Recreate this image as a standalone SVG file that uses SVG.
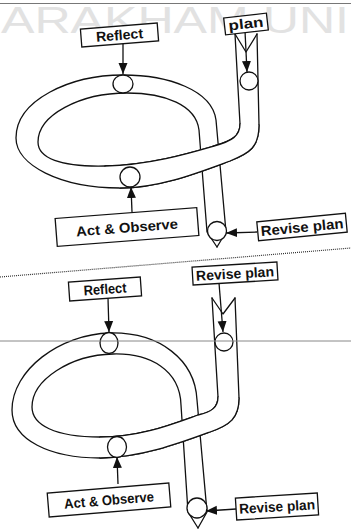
<svg xmlns="http://www.w3.org/2000/svg" width="351" height="530" viewBox="0 0 351 530">
  <style>
    .edge { fill: none; stroke: #111; stroke-width: 1.3; stroke-linejoin: round; stroke-linecap: round; }
    .mask { fill: #fff; stroke: none; }
    .stage { fill: #fff; stroke: #111; stroke-width: 1.3; }
    .box { fill: #fff; stroke: #111; stroke-width: 1.3; }
    .lbl { font-family: "Liberation Sans", Arial, sans-serif; font-weight: bold; font-size: 14px; fill: #111; text-anchor: middle; }
    .arrow { fill: none; stroke: #111; stroke-width: 1.3; marker-end: url(#head); }
    .wm { font-family: "Liberation Sans", Arial, sans-serif; font-size: 37px; fill: #e2e2e2; }
  </style>
  <defs>
    <marker id="head" markerUnits="userSpaceOnUse" markerWidth="12" markerHeight="10" refX="11" refY="5" orient="auto">
      <path d="M0,0.5 L11,5 L0,9.5 Z" fill="#111"/>
    </marker>
  </defs>

  <rect width="351" height="530" fill="#fff"/>

  <!-- page furniture -->
  <g id="page">
    <text class="wm" x="1" y="33" textLength="348" lengthAdjust="spacingAndGlyphs">ARAKHAM UNI</text>
    <line x1="0" y1="3.5" x2="351" y2="3.5" stroke="#777" stroke-width="1.2"/>
    <line x1="0" y1="277" x2="351" y2="248" stroke="#333" stroke-width="1.2" stroke-dasharray="1 1"/>
  </g>

  <!-- upper spiral: band tube -->
  <g id="spiral-1">
    <path class="edge" d="M 257,34 L 259,125 C 259,147 250,153 230,161 C 200,172 160,188 120,188 C 60,188 16,165 16,138 C 16,100 70,75 123,75 C 168,75 212,90 216,120 L 226,232 L 217,247"/>
    <path class="edge" d="M 235,34 L 240,124 C 240,136 232,141 214,146 C 190,153 150,165 105,166 C 60,167 38,158 38,142 C 38,115 80,93 127,93 C 165,93 196,105 199,130 L 207,232 L 217,247"/>
    <path class="edge" d="M 235,34 L 246,52 L 257,34"/>
    <!-- front segment of the band passes over the descending part -->
    <path class="mask" d="M 240,124 C 240,136 232,141 214,146 C 190,153 150,165 105,166 L 120,188 C 160,188 200,172 230,161 C 250,153 259,147 259,125 Z"/>
    <path class="edge" d="M 240,124 C 240,136 232,141 214,146 C 190,153 150,165 105,166"/>
    <path class="edge" d="M 259,125 C 259,147 250,153 230,161 C 200,172 160,188 120,188"/>
  </g>

  <!-- lower spiral: band tube -->
  <g id="spiral-2">
    <path class="edge" d="M 235,298 L 239,398 C 239,418 230,425 210,432 C 180,443 140,458 100,458 C 50,458 12,440 12,410 C 12,370 60,334 110,333 C 160,332 195,360 197,400 L 207,512 L 198,528"/>
    <path class="edge" d="M 212,298 L 218,397 C 218,407 212,412 198,415 C 170,425 140,437 100,437 C 55,437 32,425 32,407 C 32,380 70,355 113,354 C 150,353 180,370 181,405 L 188,512 L 198,528"/>
    <path class="edge" d="M 212,298 L 223,314 L 235,298"/>
    <path class="mask" d="M 218,397 C 218,407 212,412 198,415 C 170,425 140,437 100,437 L 100,458 C 140,458 180,443 210,432 C 230,425 239,418 239,398 Z"/>
    <path class="edge" d="M 218,397 C 218,407 212,412 198,415 C 170,425 140,437 100,437"/>
    <path class="edge" d="M 239,398 C 239,418 230,425 210,432 C 180,443 140,458 100,458"/>
  </g>

  <!-- stage markers on the tubes -->
  <g id="stages">
    <ellipse class="stage" cx="249" cy="81" rx="9" ry="9"/>
    <ellipse class="stage" cx="123" cy="84" rx="10" ry="9"/>
    <ellipse class="stage" cx="130" cy="177" rx="10" ry="10"/>
    <ellipse class="stage" cx="217" cy="231" rx="9.5" ry="9.5"/>
    <ellipse class="stage" cx="224" cy="342" rx="9" ry="9"/>
    <ellipse class="stage" cx="109" cy="343" rx="9" ry="10.5"/>
    <ellipse class="stage" cx="117" cy="447" rx="9.5" ry="10.5"/>
    <ellipse class="stage" cx="197" cy="508" rx="10" ry="10"/>
  </g>

  <!-- connectors from labels to stages -->
  <g id="connectors">
    <path class="arrow" d="M 123,44 L 123,74"/>
    <path class="arrow" d="M 245,31 L 247,72"/>
    <path class="arrow" d="M 132,212 L 131,187"/>
    <path class="arrow" d="M 257,232 L 226,233"/>
    <path class="arrow" d="M 108,298 L 109,332"/>
    <path class="arrow" d="M 219,283 L 223,332"/>
    <path class="arrow" d="M 118,484 L 117,457"/>
    <path class="arrow" d="M 236,509 L 206,511"/>
  </g>

  <!-- labels: upper spiral -->
  <g id="reflect-1" transform="translate(119.5,35) rotate(-4.5)">
    <rect class="box" x="-38.5" y="-9" width="77" height="18"/>
    <text class="lbl" x="0" y="5" textLength="47" lengthAdjust="spacingAndGlyphs">Reflect</text>
  </g>
  <g id="plan-1" transform="translate(246,24) rotate(-6.5)">
    <rect class="box" x="-21.5" y="-8.5" width="43" height="17"/>
    <text class="lbl" x="0" y="4.5" textLength="35" lengthAdjust="spacingAndGlyphs">plan</text>
  </g>
  <g id="act-1" transform="translate(127,227) rotate(-4.4)">
    <rect class="box" x="-71" y="-14" width="142" height="28"/>
    <text class="lbl" x="0" y="5.5" font-size="15" textLength="102" lengthAdjust="spacingAndGlyphs">Act &amp; Observe</text>
  </g>
  <g id="revise-1" transform="translate(302,227) rotate(-5.5)">
    <rect class="box" x="-44.5" y="-9.5" width="89" height="19"/>
    <text class="lbl" x="0" y="5" textLength="83" lengthAdjust="spacingAndGlyphs">Revise plan</text>
  </g>

  <!-- labels: lower spiral -->
  <g id="reflect-2" transform="translate(105,289) rotate(-4)">
    <rect class="box" x="-36" y="-9.5" width="72" height="19"/>
    <text class="lbl" x="0" y="5" textLength="43" lengthAdjust="spacingAndGlyphs">Reflect</text>
  </g>
  <g id="revise-2a" transform="translate(235,273.5) rotate(-3.4)">
    <rect class="box" x="-42.5" y="-9" width="85" height="18"/>
    <text class="lbl" x="0" y="5" textLength="78" lengthAdjust="spacingAndGlyphs">Revise plan</text>
  </g>
  <g id="act-2" transform="translate(109,500) rotate(-4.7)">
    <rect class="box" x="-61" y="-12" width="122" height="24"/>
    <text class="lbl" x="0" y="5" textLength="90" lengthAdjust="spacingAndGlyphs">Act &amp; Observe</text>
  </g>
  <g id="revise-2b" transform="translate(277,506.5) rotate(-3.5)">
    <rect class="box" x="-41" y="-11" width="82" height="22"/>
    <text class="lbl" x="0" y="5" textLength="76" lengthAdjust="spacingAndGlyphs">Revise plan</text>
  </g>

  <!-- ruled line running across the page -->
  <line x1="0" y1="341" x2="351" y2="341" stroke="#888" stroke-width="1"/>
</svg>
